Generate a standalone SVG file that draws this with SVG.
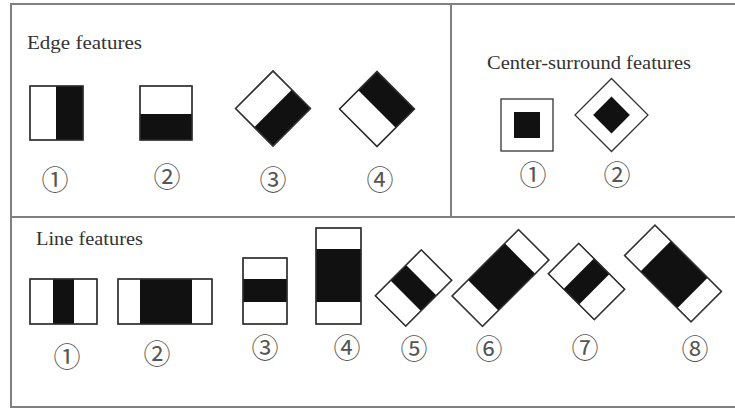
<svg xmlns="http://www.w3.org/2000/svg" width="735" height="408" viewBox="0 0 735 408">
  <style>
    .frame { fill: none; stroke: #808080; stroke-width: 2; }
    .cell { fill: #ffffff; stroke: #333333; stroke-width: 1.3; }
    .dark { fill: #111111; }
    .title { font-family: "Liberation Serif", "Times New Roman", serif; font-size: 18px; fill: #333333; }
    .num { font-family: "Noto Sans CJK SC", "DejaVu Sans", sans-serif; font-size: 27px; fill: #555555; text-anchor: middle; dominant-baseline: central; }
  </style>
  <defs>
    <!-- two-bar edge cell, 53 x 53, left white / right black -->
    <g id="edgeV">
      <rect class="cell" x="-26.5" y="-26.5" width="53" height="53"/>
      <rect class="dark" x="0" y="-26.5" width="26.5" height="53"/>
      <rect class="cell" style="fill:none" x="-26.5" y="-26.5" width="53" height="53"/>
    </g>
    <!-- short three-bar line cell -->
    <g id="lineS">
      <rect class="cell" x="-32.5" y="-21.5" width="65" height="43"/>
      <rect class="dark" x="-11" y="-21.5" width="22" height="43"/>
      <rect class="cell" style="fill:none" x="-32.5" y="-21.5" width="65" height="43"/>
    </g>
    <!-- long three-bar line cell -->
    <g id="lineL">
      <rect class="cell" x="-47" y="-21.5" width="94" height="43"/>
      <rect class="dark" x="-24.5" y="-21.5" width="52" height="43"/>
      <rect class="cell" style="fill:none" x="-47" y="-21.5" width="94" height="43"/>
    </g>
  </defs>

  <rect width="735" height="408" fill="#ffffff"/>

  <!-- panel frame and dividers -->
  <g id="frame">
    <rect class="frame" x="11" y="4" width="730" height="403"/>
    <line class="frame" x1="451" y1="4" x2="451" y2="217"/>
    <line class="frame" x1="11" y1="217" x2="735" y2="217"/>
  </g>

  <!-- Edge features -->
  <g id="edge-panel">
    <text class="title" x="27" y="49" textLength="115" lengthAdjust="spacingAndGlyphs">Edge  features</text>
    <g id="edge-1">
      <rect class="cell" x="30" y="86" width="53" height="54"/>
      <rect class="dark" x="56" y="86" width="27" height="54"/>
      <rect class="cell" style="fill:none" x="30" y="86" width="53" height="54"/>
      <text class="num" x="55" y="178">①</text>
    </g>
    <g id="edge-2">
      <rect class="cell" x="140" y="86" width="52" height="54"/>
      <rect class="dark" x="140" y="114" width="52" height="26"/>
      <rect class="cell" style="fill:none" x="140" y="86" width="52" height="54"/>
      <text class="num" x="167" y="175">②</text>
    </g>
    <g id="edge-3">
      <use href="#edgeV" transform="translate(273 108.5) rotate(45)"/>
      <text class="num" x="273" y="178">③</text>
    </g>
    <g id="edge-4">
      <use href="#edgeV" transform="translate(377 109) rotate(-45)"/>
      <text class="num" x="380" y="178">④</text>
    </g>
  </g>

  <!-- Center-surround features -->
  <g id="center-panel">
    <text class="title" x="487" y="69" textLength="204" lengthAdjust="spacingAndGlyphs">Center-surround features</text>
    <g id="center-1">
      <rect class="cell" x="501" y="99" width="52" height="52"/>
      <rect class="dark" x="514" y="112" width="26" height="26"/>
      <text class="num" x="533" y="173">①</text>
    </g>
    <g id="center-2">
      <g transform="translate(611.5 115) rotate(45)">
        <rect class="cell" x="-25.8" y="-25.8" width="51.6" height="51.6"/>
        <rect class="dark" x="-13" y="-13" width="26" height="26"/>
      </g>
      <text class="num" x="617" y="173">②</text>
    </g>
  </g>

  <!-- Line features -->
  <g id="line-panel">
    <text class="title" x="36" y="245" textLength="107" lengthAdjust="spacingAndGlyphs">Line features</text>
    <g id="line-1">
      <rect class="cell" x="30" y="279" width="67" height="45"/>
      <rect class="dark" x="53" y="279" width="21" height="45"/>
      <rect class="cell" style="fill:none" x="30" y="279" width="67" height="45"/>
      <text class="num" x="67" y="355">①</text>
    </g>
    <g id="line-2">
      <rect class="cell" x="118" y="279" width="94" height="45"/>
      <rect class="dark" x="140" y="279" width="52" height="45"/>
      <rect class="cell" style="fill:none" x="118" y="279" width="94" height="45"/>
      <text class="num" x="157" y="352">②</text>
    </g>
    <g id="line-3">
      <rect class="cell" x="243" y="258" width="44" height="66"/>
      <rect class="dark" x="243" y="279" width="44" height="23"/>
      <rect class="cell" style="fill:none" x="243" y="258" width="44" height="66"/>
      <text class="num" x="265" y="346">③</text>
    </g>
    <g id="line-4">
      <rect class="cell" x="316" y="228" width="45" height="96"/>
      <rect class="dark" x="316" y="249" width="45" height="53"/>
      <rect class="cell" style="fill:none" x="316" y="228" width="45" height="96"/>
      <text class="num" x="347" y="346">④</text>
    </g>
    <g id="line-5">
      <use href="#lineS" transform="translate(413.5 288) rotate(-45)"/>
      <text class="num" x="414" y="347">⑤</text>
    </g>
    <g id="line-6">
      <use href="#lineL" transform="translate(500.5 278) rotate(-45)"/>
      <text class="num" x="489" y="347">⑥</text>
    </g>
    <g id="line-7">
      <use href="#lineS" transform="translate(586.5 281.5) rotate(45)"/>
      <text class="num" x="585" y="346">⑦</text>
    </g>
    <g id="line-8">
      <use href="#lineL" transform="translate(673 273.5) rotate(45)"/>
      <text class="num" x="695" y="347">⑧</text>
    </g>
  </g>
</svg>
